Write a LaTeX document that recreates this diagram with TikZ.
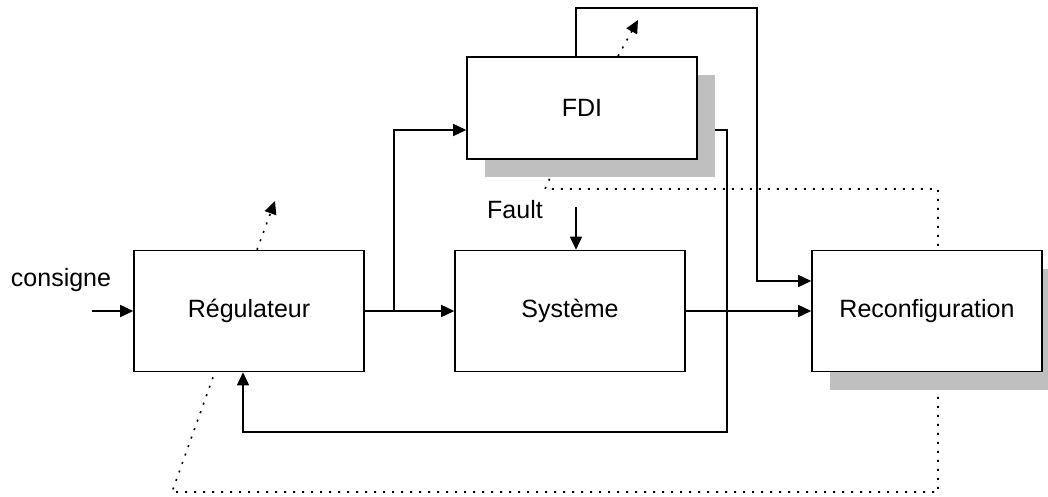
\documentclass[tikz,border=0pt]{standalone}
\usepackage{fontspec}
\setmainfont{Liberation Sans}
\usetikzlibrary{arrows.meta,shadows,backgrounds,calc,positioning}
\tikzset{
    block/.style={draw, fill=white, line width=1.6pt, minimum width=230pt, minimum height=121pt},
    shadowed/.style={general shadow={fill=black!25, shadow xshift=18pt, shadow yshift=-18pt}},
    arr/.style={line width=1.6pt, -{Triangle[length=13pt, width=12pt]}},
    dots/.style={line width=1.6pt, dash pattern=on 2pt off 7pt},
    label/.style={font=\fontsize{25}{30}\selectfont}
}
\begin{document}
\begin{tikzpicture}[x=1pt, y=-1pt, every node/.style={label}]
    \useasboundingbox (0, 0) rectangle (1048, 497);
    \node[block] (reg) at (249, 311) {Régulateur};
    \node[block] (sys) at (570, 311) {Système};
    \node[block, shadowed, minimum height=102pt] (fdi) at (582, 108) {FDI};
    \node[block, shadowed] (rec) at (927, 311) {Reconfiguration};
    \node (consigne) at (61, 280) {consigne};
    \node (fault) at (515, 210) {Fault};
    \coordinate (in) at (92, 311);
    \coordinate (split) at (394, 311);
    \coordinate (faultin) at (576, 207);
    \coordinate (top) at (757, 8);
    \coordinate (back) at (727, 432);
    \coordinate (regout) at (275, 201);
    \coordinate (fdiout) at (638, 20);
    \draw[arr] (in) -- (reg);
    \draw[arr] (reg) -- (sys);
    \draw[arr] (split) |- ([yshift=-22pt]fdi.west);
    \draw[arr] (sys) -- (rec);
    \draw[arr] (faultin) -- (faultin |- sys.north);
    \draw[arr] ([xshift=-6pt]fdi.north) |- (top) |- ([yshift=30pt]rec.west);
    \draw[arr, dots] ([xshift=8pt]reg.north) -- (regout);
    \draw[arr, dots] ([xshift=36pt]fdi.north) -- (fdiout);
    \begin{scope}[on background layer]
        \draw[arr] ([yshift=-22pt]fdi.east) -| (back) -| ([xshift=-6pt]reg.south);
        \draw[dots] ([xshift=-36pt, yshift=-5pt]reg.south) -- (172, 492) -- (938, 492)
            -- (938, 189) -- (545, 189) -- ([xshift=-24pt]fdi.south);
    \end{scope}
\end{tikzpicture}
\end{document}
